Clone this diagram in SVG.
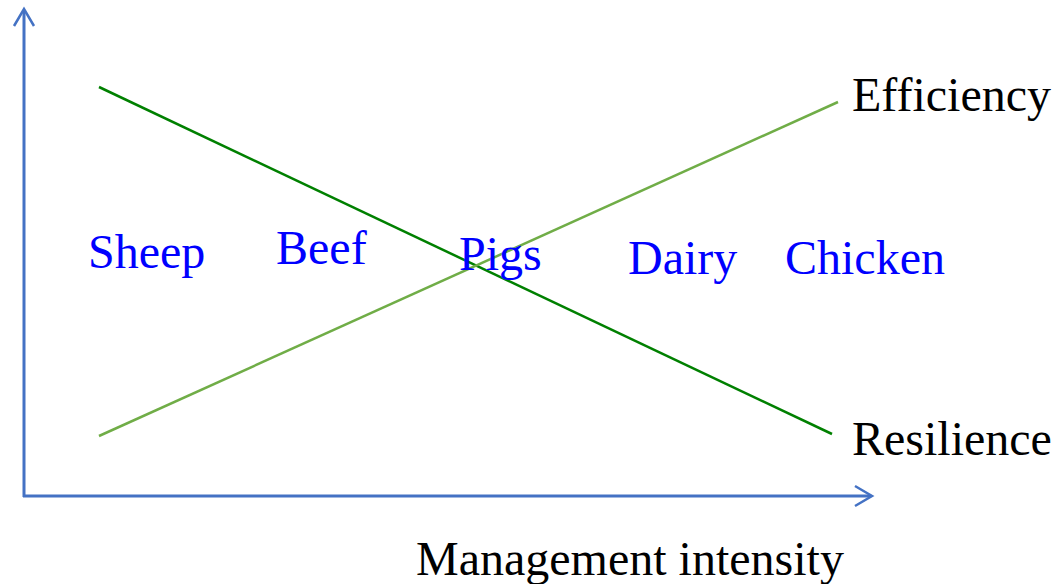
<svg xmlns="http://www.w3.org/2000/svg" width="1059" height="584" viewBox="0 0 1059 584">
<style>
.axis{stroke:#4472C4;stroke-width:3;fill:none}
.head{stroke:#4472C4;stroke-width:2.5;fill:none;stroke-linejoin:miter}
.dark{stroke:#008000;stroke-width:2.5}
.light{stroke:#70AD47;stroke-width:2.5}
.lbl{font-family:"Liberation Serif","Times New Roman",serif;font-size:48px;fill:#000}
.ani{font-family:"Liberation Serif","Times New Roman",serif;font-size:48px;fill:#0000FF}
</style>
<rect width="1059" height="584" fill="#fff"/>
<g id="connectors">
<path class="axis" d="M24,497 V10 M23,496 H871"/>
<path class="head" d="M14,26 L24,9 L34,26"/>
<path class="head" d="M855,486 L872,496 L855,506"/>
<line class="dark" x1="99" y1="87" x2="832" y2="434"/>
<line class="light" x1="99" y1="436" x2="838" y2="102"/>
</g>
<g id="efficiency"><text class="lbl" x="852" y="111">Efficiency</text></g>
<g id="resilience"><text class="lbl" x="852" y="455">Resilience</text></g>
<g id="xlabel"><text class="lbl" x="416" y="575">Management intensity</text></g>
<g id="sheep"><text class="ani" x="88" y="268">Sheep</text></g>
<g id="beef"><text class="ani" x="276" y="264">Beef</text></g>
<g id="pigs"><text class="ani" x="459" y="270">Pigs</text></g>
<g id="dairy"><text class="ani" x="628" y="274">Dairy</text></g>
<g id="chicken"><text class="ani" x="785" y="274">Chicken</text></g>
</svg>
